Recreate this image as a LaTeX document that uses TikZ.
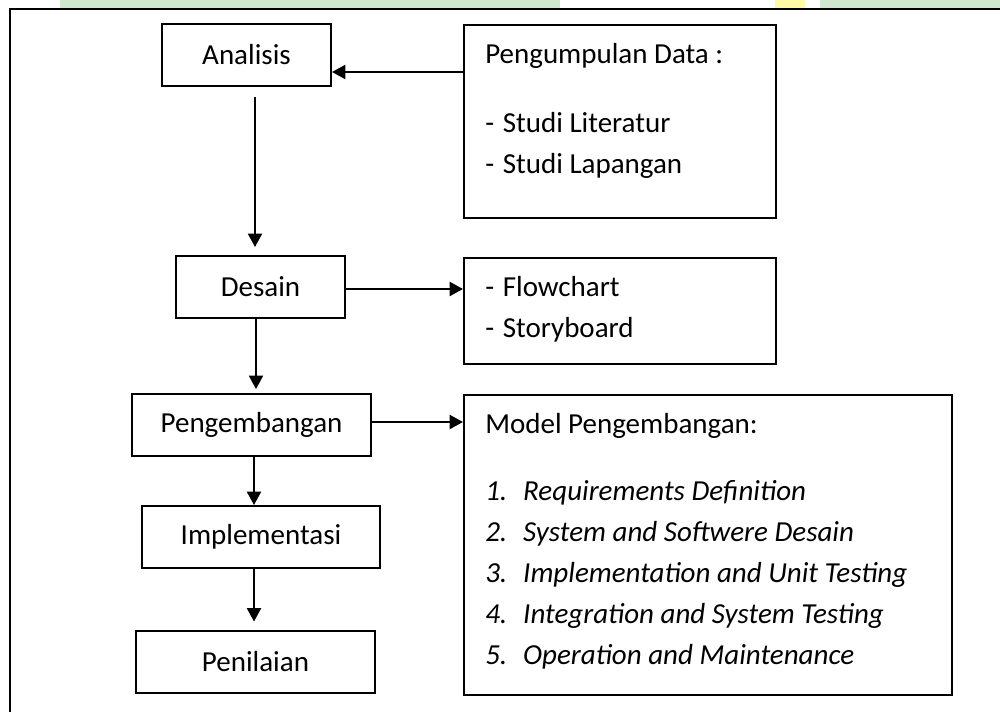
\documentclass[tikz,border=0pt]{standalone}
\usepackage{fontspec}
\setmainfont{Carlito}
\usetikzlibrary{arrows.meta}
\begin{document}
\begin{tikzpicture}[x=0.75pt,y=-0.75pt,
  every node/.style={font=\fontsize{21.75}{26}\selectfont},
  stage/.style={draw,line width=1.5pt,minimum height=46.5pt,inner sep=0pt},
  infobox/.style={draw,line width=1.5pt,anchor=north west,inner sep=0pt},
  txt/.style={anchor=base west,inner sep=0pt},
  arr/.style={line width=1.5pt,-{Triangle[length=10pt,width=10.5pt]}}]
\useasboundingbox (0,0) rectangle (1000,711);
\clip (0,0) rectangle (1000,711);
% faint background strip at the top
\fill[green!45!black!18] (60,0) rectangle (560,8);
\fill[green!45!black!18] (820,0) rectangle (1000,8);
\fill[yellow!35] (775,0) rectangle (805,8);
% outer frame
\draw[line width=1.5pt] (10,9) rectangle (1020,730);
% left column
\node[stage,minimum width=126.75pt] (ana) at (246.5,55) {Analisis};
\node[stage,minimum width=126.75pt] (des) at (260.5,287) {Desain};
\node[stage,minimum width=179.25pt] (pen) at (251.5,425) {Pengembangan};
\node[stage,minimum width=178.5pt] (imp) at (261,537) {Implementasi};
\node[stage,minimum width=179.25pt] (nil) at (255.5,661.5) {Penilaian};
% right boxes
\node[infobox,minimum width=234pt,minimum height=144.75pt] (dat) at (463,24) {};
\node[infobox,minimum width=234pt,minimum height=79.5pt] (flo) at (463,257) {};
\node[infobox,minimum width=366pt,minimum height=225pt] (mod) at (463,394) {};
% texts in right boxes
\node[txt] (t1) at (485,63) {Pengumpulan Data :};
\node[txt] (t2) at (485,132) {-\hspace{0.3em}Studi Literatur};
\node[txt] (t3) at (485,173) {-\hspace{0.3em}Studi Lapangan};
\node[txt] (t4) at (485,296) {-\hspace{0.3em}Flowchart};
\node[txt] (t5) at (485,337) {-\hspace{0.3em}Storyboard};
\node[txt] (t6) at (485,433) {Model Pengembangan:};
\node[txt] (m1) at (485,500) {\itshape 1.\hspace{0.55em}Requirements Definition};
\node[txt] (m2) at (485,541) {\itshape 2.\hspace{0.55em}System and Softwere Desain};
\node[txt] (m3) at (485,582) {\itshape 3.\hspace{0.55em}Implementation and Unit Testing};
\node[txt] (m4) at (485,623) {\itshape 4.\hspace{0.55em}Integration and System Testing};
\node[txt] (m5) at (485,664) {\itshape 5.\hspace{0.55em}Operation and Maintenance};
% vertical connectors
\coordinate (c1) at (255,97);
\coordinate (c2) at (256,318);
\coordinate (c3) at (254,456);
\coordinate (c4) at (254,568);
\draw[arr,shorten >=6pt] (c1) -- (c1 |- des.north);
\draw[arr,shorten >=3pt] (c2) -- (c2 |- pen.north);
\draw[arr] (c3) -- (c3 |- imp.north);
\draw[arr,shorten >=6pt] (c4) -- (c4 |- nil.north);
% horizontal connectors
\coordinate (h1) at (463,72);
\coordinate (h2) at (345,289);
\coordinate (h3) at (371,422);
\draw[arr] (h1) -- (h1 -| ana.east);
\draw[arr] (h2) -- (h2 -| flo.west);
\draw[arr] (h3) -- (h3 -| mod.west);
\end{tikzpicture}
\end{document}
